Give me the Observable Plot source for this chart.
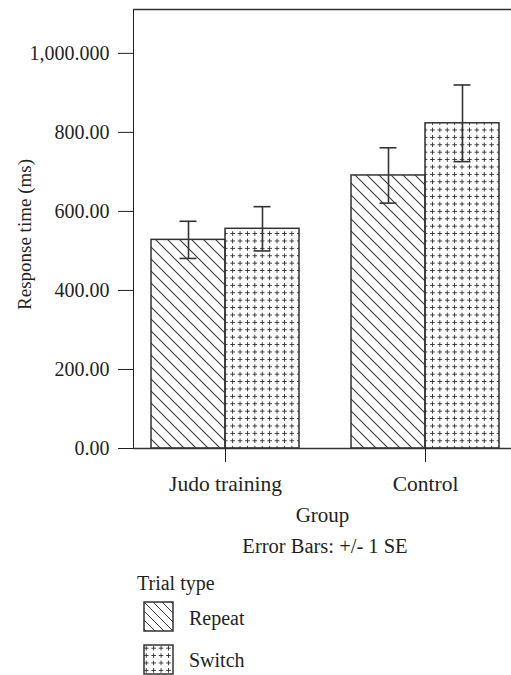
<!DOCTYPE html>
<html>
<head>
<meta charset="utf-8">
<script src="https://cdn.jsdelivr.net/npm/d3@7"></script>
<script src="https://cdn.jsdelivr.net/npm/@observablehq/plot@0.6"></script>
<style>
  html, body { margin: 0; padding: 0; background: #fff; overflow: hidden; }
  #chart { width: 511px; }
  .below { position: relative; width: 511px; height: 145px; font-family: "Liberation Serif", serif; font-size: 20px; color: #231f20; }
  .below div { position: absolute; line-height: 20px; white-space: nowrap; }
</style>
</head>
<body>
<svg width="0" height="0" style="position:absolute">
  <defs>
    <pattern id="hatch" patternUnits="userSpaceOnUse" width="12" height="12">
      <path d="M0,0L12,12M-1,11L1,13M11,-1L13,1" stroke="#3a3a3a" stroke-width="1.1" fill="none"/>
    </pattern>
    <pattern id="hatchSmall" patternUnits="userSpaceOnUse" width="9" height="9">
      <path d="M0,0L9,9M-1,8L1,10M8,-1L10,1" stroke="#3a3a3a" stroke-width="1" fill="none"/>
    </pattern>
    <pattern id="plus" patternUnits="userSpaceOnUse" width="7.4" height="7.4">
      <path d="M3.5,1.5V6.5M1,4H6" stroke="#333" stroke-width="1" fill="none" shape-rendering="crispEdges"/>
    </pattern>
  </defs>
</svg>
<div id="chart"></div>
<script>
// ---- data ----
const groups = ["Judo training", "Control"];
const trials = ["Repeat", "Switch"];
const repeatMean = [528, 691];
const repeatSE = [47, 70];
const switchMean = [556, 823];
const switchSE = [56, 97];
const yDomain = [0, 1111];
const yTicks = [0, 200, 400, 600, 800, 1000];
const yTickLabels = ["0.00", "200.00", "400.00", "600.00", "800.00", "1,000.000"];
const yLabel = "Response time (ms)";
const xLabel = "Group";
const errorNote = "Error Bars: +/- 1 SE";
const legendTitle = "Trial type";

const repeatRows = groups.map((g, i) => ({group: g, trial: trials[0], mean: repeatMean[i], se: repeatSE[i]}));
const switchRows = groups.map((g, i) => ({group: g, trial: trials[1], mean: switchMean[i], se: switchSE[i]}));

const ink = "#333";
const errStyle = {stroke: ink, strokeWidth: 1.6};

const chart = Plot.plot({
  width: 511,
  height: 530,
  marginLeft: 133,
  marginRight: 0,
  marginTop: 9,
  marginBottom: 82,
  style: {fontFamily: "'Liberation Serif', serif", fontSize: "20px", color: "#231f20", background: "white"},
  x: {
    domain: groups,
    paddingInner: 0.26,
    paddingOuter: 0.075,
    align: 0.6
  },
  y: {
    domain: yDomain,
    ticks: yTicks,
    tickFormat: d => yTickLabels[yTicks.indexOf(d)],
    tickSize: 15,
    tickPadding: 9,
    line: true,
    label: null
  },
  marks: [
    Plot.barY(repeatRows, {x: "group", y: "mean", fill: "url(#hatch)", stroke: ink, strokeWidth: 1.5, insetLeft: 0, insetRight: 74}),
    Plot.barY(switchRows, {x: "group", y: "mean", fill: "url(#plus)", stroke: ink, strokeWidth: 1.5, insetLeft: 74, insetRight: 0}),
    Plot.ruleX(repeatRows, {x: "group", y1: d => d.mean - d.se, y2: d => d.mean + d.se, dx: -37, ...errStyle}),
    Plot.ruleX(switchRows, {x: "group", y1: d => d.mean - d.se, y2: d => d.mean + d.se, dx: 37, ...errStyle}),
    Plot.tickY(repeatRows, {x: "group", y: d => d.mean + d.se, insetLeft: 28.5, insetRight: 102.5, ...errStyle}),
    Plot.tickY(repeatRows, {x: "group", y: d => d.mean - d.se, insetLeft: 28.5, insetRight: 102.5, ...errStyle}),
    Plot.tickY(switchRows, {x: "group", y: d => d.mean + d.se, insetLeft: 102.5, insetRight: 28.5, ...errStyle}),
    Plot.tickY(switchRows, {x: "group", y: d => d.mean - d.se, insetLeft: 102.5, insetRight: 28.5, ...errStyle}),
    Plot.ruleY([yDomain[0]], {stroke: ink, strokeWidth: 1.3}),
    Plot.ruleY([yDomain[1]], {stroke: ink, strokeWidth: 1.3}),
    Plot.axisX({tickSize: 14, tickPadding: 13, fontSize: 21.5, label: null}),
    Plot.text([xLabel], {frameAnchor: "bottom", dy: 73, fontSize: 21}),
    Plot.text([yLabel], {frameAnchor: "left", textAnchor: "middle", rotate: -90, dx: -109, dy: 5.5, fontSize: 19})
  ]
});
document.getElementById("chart").appendChild(chart);

// ---- caption + legend below the SVG ----
const below = document.createElement("div");
below.className = "below";
below.innerHTML = `
  <div style="left:225px; width:200px; text-align:center; top:6px; font-size:20.5px">${errorNote}</div>
  <div style="left:137px; top:43px">${legendTitle}</div>
  <svg style="position:absolute; left:143px; top:71px" width="31" height="31"><rect x="1" y="1" width="29" height="29" fill="url(#hatchSmall)" stroke="${ink}" stroke-width="1.5"/></svg>
  <div style="left:189px; top:78px">${trials[0]}</div>
  <svg style="position:absolute; left:143px; top:114px" width="31" height="31"><rect x="1" y="1" width="29" height="29" fill="url(#plus)" stroke="${ink}" stroke-width="1.5"/></svg>
  <div style="left:189px; top:120px">${trials[1]}</div>
`;
document.body.appendChild(below);
</script>
</body>
</html>
